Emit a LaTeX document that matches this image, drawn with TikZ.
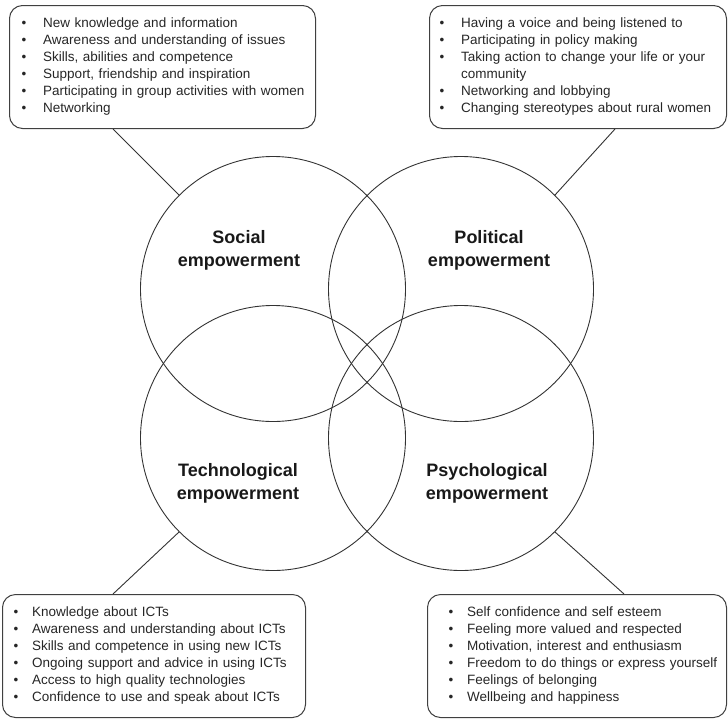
\documentclass[tikz,border=0pt]{standalone}
\usepackage{fontspec}
\setmainfont{Liberation Sans}
\usetikzlibrary{calc}

\newcommand{\bl}{\textbullet}

\begin{document}
\begin{tikzpicture}[
    x=1pt, y=-1pt,
    ring/.style={circle, draw=black!80, line width=0.9pt, minimum size=265pt, inner sep=0pt},
    ringlabel/.style={font=\fontsize{18}{23}\selectfont\bfseries, align=center, text=black!90},
    listbox/.style={draw=black!75, line width=1pt, rounded corners=13pt, anchor=north west,
                    minimum height=123pt, align=left, inner ysep=0pt,
                    font=\fontsize{13.5}{17}\selectfont, text=black!85},
    link/.style={draw=black!80, line width=0.9pt},
]
\useasboundingbox (0,0) rectangle (728,718);

% The four overlapping circles
\node[ring] (soc) at (273,289) {};
\node[ring] (pol) at (461,289) {};
\node[ring] (tec) at (273,438) {};
\node[ring] (psy) at (461,438) {};

\node[ringlabel] (soclbl) at (239,250) {Social\\empowerment};
\node[ringlabel] (pollbl) at (489,250) {Political\\empowerment};
\node[ringlabel] (teclbl) at (238,483) {Technological\\empowerment};
\node[ringlabel] (psylbl) at (487,483) {Psychological\\empowerment};

% Top boxes
\node[listbox, minimum width=306pt, inner xsep=12pt, text width=282pt] (socbox) at (9,5) {%
\begin{tabular}{@{}l@{\hspace{17pt}}l@{}}
\bl & New knowledge and information\\
\bl & Awareness and understanding of issues\\
\bl & Skills, abilities and competence\\
\bl & Support, friendship and inspiration\\
\bl & Participating in group activities with women\\
\bl & Networking
\end{tabular}};
\node[listbox, minimum width=297pt, inner xsep=10pt, text width=277pt] (polbox) at (429,5) {%
\begin{tabular}{@{}l@{\hspace{17pt}}l@{}}
\bl & Having a voice and being listened to\\
\bl & Participating in policy making\\
\bl & Taking action to change your life or your\\
    & community\\
\bl & Networking and lobbying\\
\bl & Changing stereotypes about rural women
\end{tabular}};

% Bottom boxes
\node[listbox, minimum width=303pt, inner xsep=11pt, text width=281pt] (tecbox) at (2,594) {%
\begin{tabular}{@{}l@{\hspace{14pt}}l@{}}
\bl & Knowledge about ICTs\\
\bl & Awareness and understanding about ICTs\\
\bl & Skills and competence in using new ICTs\\
\bl & Ongoing support and advice in using ICTs\\
\bl & Access to high quality technologies\\
\bl & Confidence to use and speak about ICTs
\end{tabular}};
\node[listbox, minimum width=299pt, inner xsep=21pt, text width=257pt] (psybox) at (427,594) {%
\begin{tabular}{@{}l@{\hspace{14pt}}l@{}}
\bl & Self confidence and self esteem\\
\bl & Feeling more valued and respected\\
\bl & Motivation, interest and enthusiasm\\
\bl & Freedom to do things or express yourself\\
\bl & Feelings of belonging\\
\bl & Wellbeing and happiness
\end{tabular}};

% Callout lines
\draw[link] ($(socbox.south west)+(104,0)$) -- (soc.135);
\draw[link] ($(polbox.south west)+(186,0)$) -- (pol.45);
\draw[link] ($(tecbox.north west)+(111,0)$) -- (tec.225);
\draw[link] ($(psybox.north west)+(197,0)$) -- (psy.315);

\end{tikzpicture}
\end{document}
